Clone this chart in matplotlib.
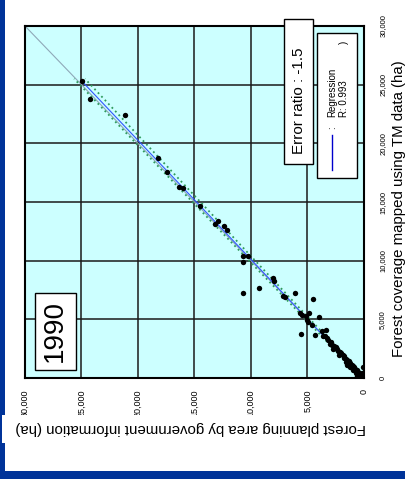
import numpy as np
import matplotlib
matplotlib.use("Agg")
import matplotlib.pyplot as plt
from matplotlib.patches import Rectangle

plt.rcParams['font.family'] = ['Liberation Sans', 'DejaVu Sans']

# Daten: TM-Waldflaeche (vertikale Achse) und Planungsflaeche (horizontal, gespiegelt)
tm_data = [25290, 23780, 22450, 18790, 17540, 16320, 16230, 14620, 13110, 13340,
           12970, 12630, 10440, 10440, 9850, 7240, 7660, 8510, 8230, 6950,
           6900, 7240, 5530, 5340, 3780, 5250, 5530, 4910, 4740, 6730,
           4540, 3630, 5170, 3970, 3600, 4120, 3550,
           3400, 3250, 3100, 2900, 2850, 2750, 2600, 2500, 2450, 2300,
           2250, 2100, 2000, 1950, 1850, 1700, 1650, 1500, 1450, 1350,
           1300, 1150, 1150, 1050, 950, 900, 800, 700, 650, 550,
           450, 400, 300, 250, 200, 120, 80, 50, 400, 900, 1100, 200]
gov_data = [24930, 24250, 21150, 18230, 17460, 16340, 15990, 14490, 13160, 12950,
            12390, 12150, 10740, 10300, 10740, 10680, 9320, 8080, 7970, 7200,
            6960, 6110, 5660, 5520, 5580, 5130, 4870, 5070, 4930, 4540,
            4630, 4340, 3950, 3750, 3660, 3360, 3450,
            3300, 3150, 2950, 3050, 2800, 2650, 2500, 2700, 2400, 2300,
            2150, 2000, 2200, 1900, 1750, 1800, 1600, 1500, 1350, 1550,
            1250, 1500, 1100, 1000, 1250, 900, 800, 950, 650, 500,
            700, 400, 300, 550, 200, 100, 350, 50, 150, 100, 1400, 600]

ticks = [0, 5000, 10000, 15000, 20000, 25000, 30000]
tick_labels = ['0', '5,000', '10,000', '15,000', '20,000', '25,000', '30,000']

# Regression (gov = a * tm + b) und Konfidenzband, aus dem Bild geschaetzt
reg_slope = 0.985
reg_intercept = 50
reg_tm = [0, 25300]
band_tm = [0, 5000, 10000, 15000, 20000, 25500]
band_half = [150, 200, 270, 350, 420, 480]

W, H = 406, 479
fig = plt.figure(figsize=(W / 100, H / 100), dpi=100)
ax = fig.add_axes([25 / W, 101 / H, 339 / W, 352 / H])
ax.set_facecolor('#ccffff')
ax.set_xlim(30000, 0)
ax.set_ylim(0, 30000)

ax.set_xticks(ticks)
ax.set_xticklabels(tick_labels, rotation=90, fontsize=6.5)
ax.yaxis.tick_right()
ax.set_yticks(ticks)
ax.set_yticklabels(tick_labels, rotation=90, fontsize=5.5, va='center')
ax.tick_params(axis='x', length=0, pad=8)
ax.tick_params(axis='y', length=0, pad=11)
ax.grid(True, color='#1a1a1a', lw=1.1)
ax.set_axisbelow(True)
for s in ax.spines.values():
    s.set_color('black')
    s.set_linewidth(1.5)

# 1:1 Linie
ax.plot(ticks, ticks, color='#8fa8b8', lw=0.8, zorder=2)

# Regressionslinie
reg_tm = np.array(reg_tm)
ax.plot(reg_slope * reg_tm + reg_intercept, reg_tm, color='#3355ff', lw=0.8, zorder=3)

# Konfidenzband
band_tm = np.array(band_tm)
band_half = np.array(band_half)
band_mid = reg_slope * band_tm + reg_intercept
for sign in (1, -1):
    ax.plot(band_mid + sign * band_half, band_tm, color='#2f9a5c', lw=1.3,
            ls=(0, (1, 1.8)), zorder=3)

ax.scatter(gov_data, tm_data, s=15, c='black', zorder=5, linewidths=0)

# Kasten "1990"
ax.add_patch(Rectangle((0.0295, 0.0227), 0.121, 0.219, transform=ax.transAxes,
                       fc='white', ec='black', lw=1, zorder=6))
ax.text(0.0885, 0.1335, '1990', transform=ax.transAxes, rotation=90, fontsize=20,
        ha='center', va='center', zorder=7)

# Kasten "Error ratio"
ax.add_patch(Rectangle((0.764, 0.608), 0.0855, 0.412, transform=ax.transAxes,
                       fc='white', ec='black', lw=1, zorder=6, clip_on=False))
ax.text(0.807, 0.787, 'Error ratio : -1.5', transform=ax.transAxes, rotation=90,
        fontsize=11, ha='center', va='center', zorder=7)

# Legende
ax.add_patch(Rectangle((0.861, 0.568), 0.118, 0.412, transform=ax.transAxes,
                       fc='white', ec='black', lw=1, zorder=6))
ax.plot([0.9056, 0.9056], [0.591, 0.690], transform=ax.transAxes, color='#0000cc',
        lw=1, zorder=7)
ax.text(0.9056, 0.710, ':', transform=ax.transAxes, rotation=90, fontsize=7,
        ha='center', va='center', zorder=7)
ax.text(0.9056, 0.7415, 'Regression', transform=ax.transAxes, rotation=90, fontsize=7,
        ha='center', va='bottom', zorder=7)
ax.text(0.941, 0.7415, 'R: 0.993', transform=ax.transAxes, rotation=90, fontsize=7,
        ha='center', va='bottom', zorder=7)
ax.text(0.941, 0.9545, ')', transform=ax.transAxes, rotation=90, fontsize=7,
        ha='center', va='center', zorder=7)

# blauer Rand
fig.patches.append(Rectangle((0, 0), 5 / W, 1, transform=fig.transFigure,
                             fc='#003399', ec='none', zorder=1.5))
fig.patches.append(Rectangle((0, 0), 1, 8 / H, transform=fig.transFigure,
                             fc='#003399', ec='none', zorder=1.5))

# Achsentitel
fig.patches.append(Rectangle((2 / W, 1 - 443 / H), 376 / W, 28 / H, transform=fig.transFigure,
                             fc='white', ec='none', zorder=2))
fig.text(190.5 / W, 1 - 428 / H, 'Forest planning area by government information (ha)',
         rotation=180, fontsize=10.8, ha='center', va='center', zorder=3)
fig.text(399 / W, 1 - 209 / H, 'Forest coverage mapped using TM data (ha)',
         rotation=90, fontsize=10.8, ha='center', va='center', zorder=3)

fig.savefig('out.png', dpi=100)
